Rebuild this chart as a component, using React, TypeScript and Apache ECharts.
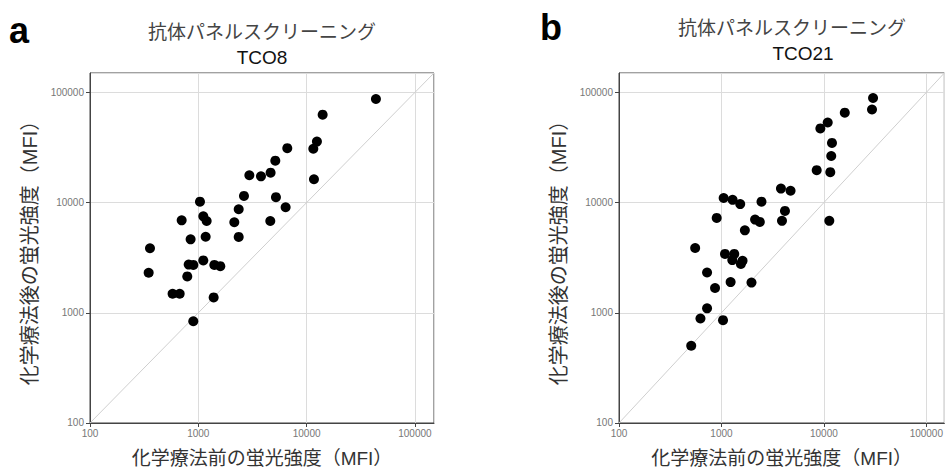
import React, { useEffect, useRef } from "react";
import * as echarts from "echarts";

const panelLetters = ["a", "b"];
const titleMain = "抗体パネルスクリーニング";
const panelNames = ["TCO8", "TCO21"];
const xAxisName = "化学療法前の蛍光強度（MFI）";
const yAxisName = "化学療法後の蛍光強度（MFI）";
const axisMin = 100;
const axisMax = 150000;

// TCO8
const tco8Before = [43650, 14060, 12450, 11530, 6630, 11690, 5140, 4650, 3790, 2960, 2640, 5210, 6400, 2360, 2150, 4620, 2360, 1036, 1112, 1194, 702, 1169, 849, 358, 348, 815, 899, 1112, 1406, 1596, 791, 579, 673, 1386, 899];
const tco8After = [87100, 62800, 35800, 30800, 31200, 16300, 24000, 18700, 17300, 17700, 11500, 11200, 9080, 8710, 6630, 6810, 4880, 10200, 7500, 6810, 6900, 4900, 4640, 3850, 2310, 2740, 2720, 2990, 2720, 2650, 2140, 1490, 1490, 1380, 838];

// TCO21
const tco21Before = [30200, 29500, 16000, 10900, 9240, 12000, 11800, 11550, 8510, 3810, 4730, 4170, 3900, 11300, 2460, 2130, 2370, 1051, 1285, 1525, 899, 1693, 554, 1083, 1334, 1276, 1607, 1548, 724, 1229, 1965, 866, 724, 624, 1036, 507];
const tco21After = [89000, 70000, 65500, 53300, 47100, 34800, 26500, 18900, 19700, 13400, 12800, 8400, 6830, 6830, 10200, 7010, 6680, 11000, 10600, 9690, 7260, 5600, 3870, 3420, 3420, 3010, 2960, 2770, 2320, 1900, 1880, 1680, 1097, 887, 857, 502];

const FONT = "'Liberation Sans', 'Noto Sans CJK JP', sans-serif";

export default function App() {
  const ref = useRef<HTMLDivElement>(null);
  useEffect(() => {
    if (!ref.current) return;
    const chart = echarts.init(ref.current, null, { renderer: "svg" });
    const grids = [
      { left: 90, top: 73, width: 344, height: 356 },
      { left: 619, top: 73, width: 330, height: 356 },
    ];
    const fmt = (v: number) => String(Math.round(v));
    const mkX = (i: number) => ({
      type: "log",
      gridIndex: i,
      min: axisMin,
      max: axisMax,
      logBase: 10,
      name: xAxisName,
      nameLocation: "middle",
      nameGap: 26,
      nameTextStyle: { fontFamily: FONT, fontSize: 19, color: "#333" },
      axisLine: { show: true, lineStyle: { color: "#444", width: 1 } },
      axisTick: { show: true, length: 4, lineStyle: { color: "#444" } },
      axisLabel: { fontFamily: FONT, fontSize: 10, color: "#777", margin: 6, showMaxLabel: false, formatter: fmt },
      splitLine: { show: true, lineStyle: { color: "#dcdcdc", width: 1 } },
      minorTick: { show: false },
    });
    const mkY = (i: number) => ({
      type: "log",
      gridIndex: i,
      min: axisMin,
      max: axisMax,
      logBase: 10,
      name: yAxisName,
      nameLocation: "middle",
      nameGap: 50,
      nameRotate: 90,
      nameTextStyle: { fontFamily: FONT, fontSize: 20, color: "#333" },
      axisLine: { show: true, lineStyle: { color: "#444", width: 1 } },
      axisTick: { show: true, length: 4, lineStyle: { color: "#444" } },
      axisLabel: { fontFamily: FONT, fontSize: 10, color: "#777", margin: 6, showMaxLabel: false, formatter: fmt },
      splitLine: { show: true, lineStyle: { color: "#dcdcdc", width: 1 } },
    });
    const pts = (a: number[], b: number[]) => a.map((v, k) => [v, b[k]]);
    const mkDiag = (i: number) => ({
      type: "line",
      xAxisIndex: i,
      yAxisIndex: i,
      data: [[axisMin, axisMin], [axisMax, axisMax]],
      symbol: "none",
      lineStyle: { color: "#cfcfcf", width: 1 },
      silent: true,
      z: 1,
    });
    const mkScatter = (i: number, d: number[][]) => ({
      type: "scatter",
      xAxisIndex: i,
      yAxisIndex: i,
      data: d,
      symbolSize: 10,
      itemStyle: { color: "#000", opacity: 1 },
      z: 3,
    });
    const text = (x: number, y: number, t: string, size: number, weight: string, color: string) => ({
      type: "text",
      x,
      y,
      style: {
        text: t,
        fontFamily: FONT,
        fontSize: size,
        fontWeight: weight,
        fill: color,
        textAlign: "center",
        textVerticalAlign: "middle",
      },
    });
    chart.setOption({
      animation: false,
      backgroundColor: "#fff",
      grid: grids.map((g) => ({ ...g, show: true, borderColor: "#444", borderWidth: 1, backgroundColor: "transparent" })),
      xAxis: [mkX(0), mkX(1)],
      yAxis: [mkY(0), mkY(1)],
      series: [
        mkDiag(0),
        mkScatter(0, pts(tco8Before, tco8After)),
        mkDiag(1),
        mkScatter(1, pts(tco21Before, tco21After)),
      ],
      graphic: [
        text(19, 30, panelLetters[0], 36, "bold", "#000"),
        text(551, 27, panelLetters[1], 36, "bold", "#000"),
        text(262, 32, titleMain, 19, "normal", "#444"),
        text(262, 57, panelNames[0], 19, "normal", "#111"),
        text(792, 28, titleMain, 19, "normal", "#444"),
        text(803, 53, panelNames[1], 19, "normal", "#111"),
      ],
    });
    return () => chart.dispose();
  }, []);
  return (
    <div
      ref={ref}
      style={{ position: "absolute", left: 0, top: 0, width: 946, height: 473, background: "#fff" }}
    />
  );
}
